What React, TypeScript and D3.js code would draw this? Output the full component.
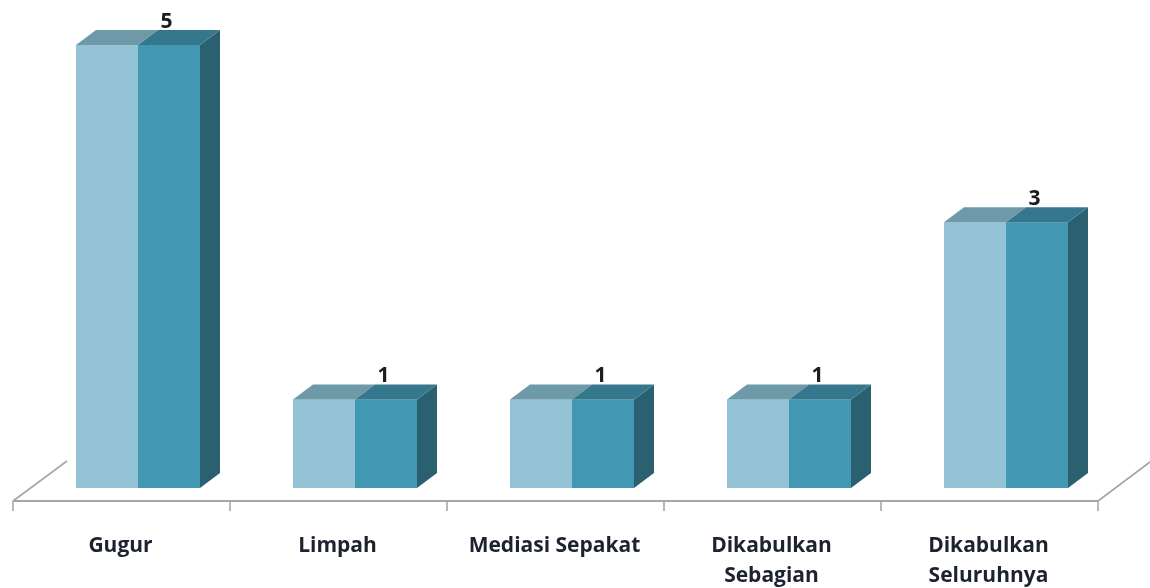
import React from "react";
import * as d3 from "d3";

const categories = ["Gugur", "Limpah", "Mediasi Sepakat", "Dikabulkan Sebagian", "Dikabulkan Seluruhnya"];
const values = [5, 1, 1, 1, 3];
const labelLines = [["Gugur"], ["Limpah"], ["Mediasi Sepakat"], ["Dikabulkan", "Sebagian"], ["Dikabulkan", "Seluruhnya"]];

const W = 1150, H = 588;
const font = "'Open Sans', 'Noto Sans', sans-serif";

export default function App() {
  const x = d3.scaleBand<string>().domain(categories).range([13, 1098]);
  const y = d3.scaleLinear().domain([0, 5]).range([488, 45]);
  const barW = 124, dx = 20, dy = 15;
  const axisY = 501;
  const ticks = [...categories.map((c) => x(c) as number), 1098];
  const poly = (pts: [number, number][]) => d3.line()(pts) + "Z";
  return (
    <svg width={W} height={H} viewBox={`0 0 ${W} ${H}`} style={{ position: "absolute", left: 0, top: 0, background: "#fff" }}>
      <defs>
        <filter id="soft" x="-5%" y="-5%" width="110%" height="110%">
          <feGaussianBlur stdDeviation="0.5" />
        </filter>
      </defs>
      <g filter="url(#soft)">
        <path d={poly([[13, axisY], [67, 461]]).replace("Z", "")} stroke="#a6a6a6" strokeWidth={1.6} fill="none" />
        <path d={poly([[1098, axisY], [1150, 462]]).replace("Z", "")} stroke="#a6a6a6" strokeWidth={1.6} fill="none" />
        <line x1={13} x2={1098} y1={axisY} y2={axisY} stroke="#a6a6a6" strokeWidth={2} />
        {ticks.map((t, i) => (
          <line key={i} x1={t} x2={t} y1={axisY} y2={511} stroke="#a6a6a6" strokeWidth={1.6} />
        ))}
        {categories.map((c, i) => {
          const band = x(c) as number;
          const l = band + 63;
          const m = l + barW / 2;
          const r = l + barW;
          const t = y(values[i]);
          const b = y(0);
          return (
            <g key={c}>
              <rect x={l} y={t} width={barW / 2} height={b - t} fill="#94c3d6" />
              <rect x={m} y={t} width={barW / 2} height={b - t} fill="#4298b2" />
              <path d={poly([[r, t], [r + dx, t - dy], [r + dx, b - dy], [r, b]])} fill="#2b6170" />
              <path d={poly([[l, t], [l + dx, t - dy], [m + dx, t - dy], [m, t]])} fill="#6d99a9" />
              <path d={poly([[m, t], [m + dx, t - dy], [r + dx, t - dy], [r, t]])} fill="#34788d" />
              <text x={m + 28.5} y={t - 17} textAnchor="middle" fontFamily={font} fontWeight={700} fontSize={21} fill="#1a1a24">
                {values[i]}
              </text>
            </g>
          );
        })}
        {categories.map((c, i) => {
          const cx = (x(c) as number) + x.bandwidth() / 2 - 1;
          return labelLines[i].map((ln, j) => (
            <text key={ln + j} x={cx} y={552 + j * 30} textAnchor="middle" fontFamily={font} fontWeight={700} fontSize={21} fill="#1f2430">
              {ln}
            </text>
          ));
        })}
      </g>
    </svg>
  );
}
